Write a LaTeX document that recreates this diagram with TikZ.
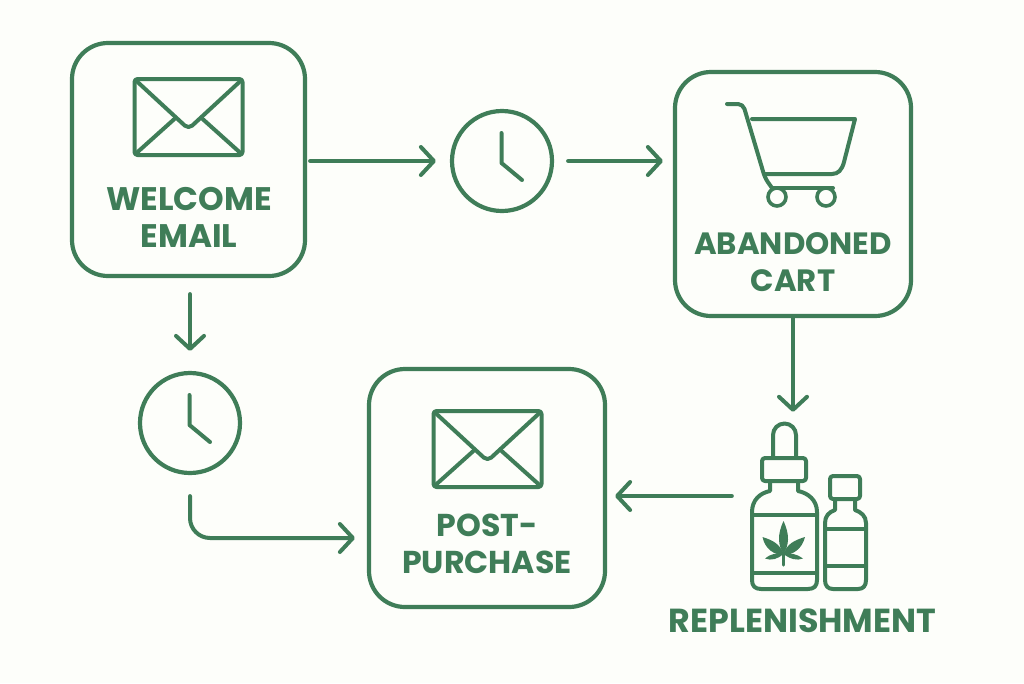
\documentclass[tikz,border=0pt]{standalone}
\usepackage{fontspec}
\setmainfont{Poppins}
\usetikzlibrary{arrows.meta}
\definecolor{leaf}{HTML}{3F7D58}
\definecolor{paper}{HTML}{FDFEFA}
\tikzset{
  card/.style={draw=leaf,line width=4.2pt,rounded corners=36pt,inner sep=0pt,fill=none},
  clockface/.style={circle,draw=leaf,line width=4.2pt,minimum size=100pt,inner sep=0pt},
  ink/.style={draw=leaf,line width=4pt,line cap=round,line join=round},
  flow/.style={ink,-{Straight Barb[length=13pt,width=28pt,line width=4pt,round]}},
  caption/.style={text=leaf,align=center,inner sep=0pt},
  spot/.style={inner sep=0pt,minimum width=118pt,minimum height=168pt}
}
\newcommand{\envelope}[2]{%
  \begin{scope}[shift={(#1,#2)}]
    \draw[ink,rounded corners=3pt] (0,0) rectangle (108,76);
    \draw[ink,rounded corners=5pt] (2,2) -- (54,50) -- (106,2);
    \draw[ink] (2,74) -- (41,39);
    \draw[ink] (106,74) -- (67,39);
  \end{scope}}
\begin{document}
\begin{tikzpicture}[x=1pt,y=-1pt]
\useasboundingbox (0,0) rectangle (1024,683);
\fill[paper] (0,0) rectangle (1024,683);
% cards
\node[card,minimum width=233pt,minimum height=233pt] (welcome) at (188.5,159.5) {};
\node[card,minimum width=236pt,minimum height=244pt] (cart) at (793,194) {};
\node[card,minimum width=236pt,minimum height=238pt] (post) at (487,488) {};
\node[clockface] (clockA) at (502,161) {};
\node[clockface] (clockB) at (190,423) {};
\node[spot] (bottles) at (809,506) {};
% captions
\node[caption,font=\fontsize{32.6}{37}\selectfont\bfseries] (welcometext) at (189,217.5) {WELCOME\\EMAIL};
\node[caption,font=\fontsize{30.8}{37}\selectfont\bfseries] (carttext) at (793,262.5) {ABANDONED\\CART};
\node[caption,font=\fontsize{31.6}{37}\selectfont\bfseries] (posttext) at (487,543.5) {POST-\\PURCHASE};
\node[caption,font=\fontsize{33.3}{37}\selectfont\bfseries] (bottletext) at (802.5,621) {REPLENISHMENT};
% clock hands
\draw[ink] (501.5,133) -- (501.5,163) -- (522,180);
\draw[ink] (189.5,395) -- (189.5,425) -- (210,442);
% envelopes
\envelope{134.5}{79}
\envelope{433.5}{411}
% shopping cart
\draw[ink,rounded corners=5pt] (727,104) -- (743,104) -- (765,178) -- (772,188);
\draw[ink] (772,188) -- (833,188);
\draw[ink] (752,119) -- (855,119) -- (844,162) .. controls (842,170) and (838,174) .. (832,174) -- (765,174);
\draw[ink,line width=3.6pt] (777,197) circle (9pt);
\draw[ink,line width=3.6pt] (826,197) circle (9pt);
% dropper bottle
\draw[ink] (773,457) -- (773,435) arc[start angle=180,end angle=0,radius=11.5pt] -- (796,457);
\draw[ink,rounded corners=3pt] (762,458) rectangle (806,481);
\draw[ink] (770,481) -- (770,491) .. controls (760,493) and (752,500) .. (752,512)
  -- (752,580) .. controls (752,586) and (755,589) .. (761,589) -- (808,589)
  .. controls (814,589) and (817,586) .. (817,580) -- (817,512)
  .. controls (817,500) and (808,493) .. (798,491) -- (798,481);
\draw[ink] (752,515) -- (817,515);
\draw[ink] (752,573) -- (817,573);
% cannabis leaf
\fill[leaf] (783.5,521) .. controls (777,535) and (778,545) .. (783.5,554) .. controls (789,545) and (790,535) .. (783.5,521) -- cycle;
\fill[leaf] (762.5,537) .. controls (765,549) and (774,555) .. (783.5,555) .. controls (781,544) and (772,540) .. (762.5,537) -- cycle;
\fill[leaf] (805,537) .. controls (802,549) and (793,555) .. (783.5,555) .. controls (786,544) and (795,540) .. (805,537) -- cycle;
\fill[leaf] (765,558.5) .. controls (771,561) and (778,559) .. (783.5,554) .. controls (777,552.5) and (770,554) .. (765,558.5) -- cycle;
\fill[leaf] (803,558.5) .. controls (797,561) and (790,559) .. (783.5,554) .. controls (790,552.5) and (797,554) .. (803,558.5) -- cycle;
\draw[ink,line width=3pt] (783.5,552) -- (783.5,565);
% small bottle
\draw[ink,rounded corners=3pt] (830,476) rectangle (860,499);
\draw[ink] (835,499) -- (835,510) .. controls (829,512) and (825,516) .. (825,523)
  -- (825,580) .. controls (825,586) and (828,589) .. (833,589) -- (858,589)
  .. controls (863,589) and (866,586) .. (866,580) -- (866,523)
  .. controls (866,516) and (861,512) .. (855,510) -- (855,499);
\draw[ink] (825,529) -- (866,529);
\draw[ink] (825,566) -- (866,566);
% connectors
\draw[flow,shorten <=3pt,shorten >=14pt] (welcome.east |- clockA) -- (clockA.west);
\draw[flow,shorten <=14pt,shorten >=10pt] (clockA.east) -- (cart.west |- clockA);
\draw[flow,shorten >=10pt] (cart.south) -- (cart.south |- bottles.north);
\draw[flow,shorten <=18pt,shorten >=8pt] (bottles.west |- 0,496) -- (post.east |- 0,496);
\draw[flow,shorten <=16pt,shorten >=20pt] (clockB |- welcome.south) -- (clockB.north);
\draw[flow,rounded corners=20pt,shorten <=21pt,shorten >=12pt] (clockB.south) -- (clockB |- 0,538) -- (post.west |- 0,538);
\end{tikzpicture}
\end{document}
